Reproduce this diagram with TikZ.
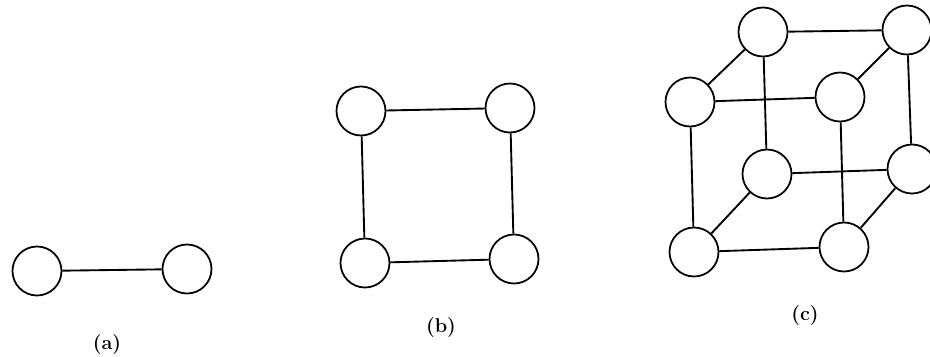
\documentclass[tikz,border=0pt]{standalone}
\tikzset{vtx/.style={circle,draw=black,line width=1.5pt,fill=white,minimum size=1.47cm,inner sep=0pt},
edge/.style={draw=black,line width=1.6pt},
lab/.style={font=\bfseries\fontsize{17}{19}\selectfont}}
\begin{document}
\begin{tikzpicture}[x=0.03cm,y=-0.03cm]
\useasboundingbox (0,0) rectangle (930,356);
\clip (0,0) rectangle (930,356);
\node[vtx] (a1) at (37,271) {};
\node[vtx] (a2) at (187,269) {};
\draw[edge] (a1) -- (a2);
\node[vtx] (b1) at (361,111) {};
\node[vtx] (b2) at (510,108) {};
\node[vtx] (b3) at (365,263) {};
\node[vtx] (b4) at (514,259) {};
\draw[edge] (b1) -- (b2) (b1) -- (b3) (b2) -- (b4) (b3) -- (b4);
\node[vtx] (c1) at (763,32) {};
\node[vtx] (c2) at (907,30) {};
\node[vtx] (c3) at (690,102) {};
\node[vtx] (c4) at (840,97) {};
\node[vtx] (c5) at (767,174) {};
\node[vtx] (c6) at (912,169) {};
\node[vtx] (c7) at (694,252) {};
\node[vtx] (c8) at (844,247) {};
\draw[edge] (c1)--(c2) (c1)--(c3) (c2)--(c4) (c3)--(c4) (c1)--(c5) (c2)--(c6) (c3)--(c7) (c4)--(c8) (c5)--(c6) (c5)--(c7) (c6)--(c8) (c7)--(c8);
\node[lab] (la) at (107,345) {(a)};
\node[lab] (lb) at (441,328) {(b)};
\node[lab] (lc) at (805,316) {(c)};
\end{tikzpicture}
\end{document}
